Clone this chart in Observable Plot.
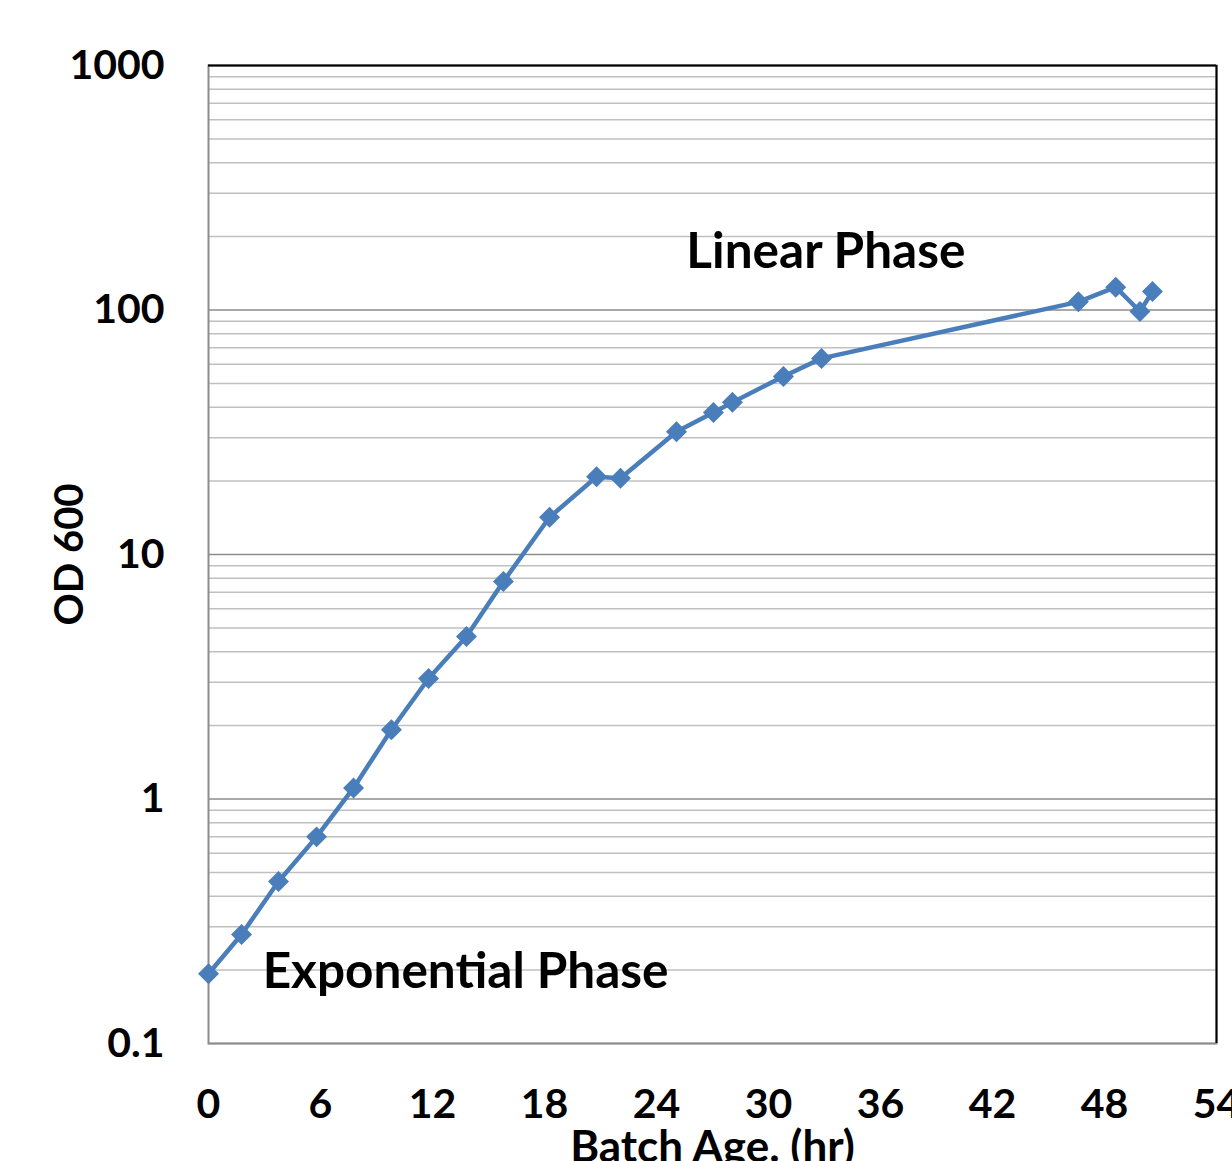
<!DOCTYPE html>
<html><head><meta charset="utf-8">
<script src="https://cdn.jsdelivr.net/npm/d3@7"></script>
<script src="https://cdn.jsdelivr.net/npm/@observablehq/plot@0.6"></script>
<style>
html,body{margin:0;padding:0;background:#fff;}
#chart{width:1232px;height:1161px;overflow:hidden;}
</style></head>
<body><div id="chart"></div>
<script>
const hours = [0, 1.77, 3.75, 5.79, 7.77, 9.8, 11.79, 13.82, 15.8, 18.27, 20.79, 22.07, 25.07, 27.05, 28.07, 30.8, 32.84, 46.6, 48.6, 49.9, 50.57];
const od600 = [0.193, 0.279, 0.46, 0.70, 1.11, 1.92, 3.11, 4.62, 7.76, 14.2, 20.8, 20.5, 31.8, 38.1, 41.9, 53.5, 63.4, 108, 124, 98.6, 119];
const xTicks = [0, 6, 12, 18, 24, 30, 36, 42, 48, 54];
const yTicks = [0.1, 1, 10, 100, 1000];
const yTickLabels = ["0.1", "1", "10", "100", "1000"];
const annotations = [
  {label: "Linear Phase", hour: 25.6, od: 172},
  {label: "Exponential Phase", hour: 2.9, od: 0.196}
];
const xLabel = "Batch Age. (hr)";
const yLabel = "OD 600";

const data = hours.map((h, i) => ({h, v: od600[i]}));
const minorTicks = [];
for (let d = 0; d < yTicks.length - 1; d++) for (let k = 2; k <= 9; k++) minorTicks.push(+(yTicks[d] * k).toPrecision(6));

const FONT = "Lato, 'Open Sans', sans-serif";
const blue = "#4a7ebb";

const chart = Plot.plot({
  width: 1232, height: 1161,
  marginLeft: 208, marginRight: 16, marginTop: 65, marginBottom: 118,
  style: {fontFamily: FONT, fontWeight: "bold", background: "#fff"},
  x: {domain: [0, 54], ticks: xTicks, label: null, axis: null},
  y: {type: "log", domain: [0.1, 1000], axis: null},
  marks: [
    Plot.ruleY(minorTicks, {stroke: "#c0c0c0", strokeWidth: 1.5}),
    Plot.ruleY(yTicks, {stroke: "#8c8c8c", strokeWidth: 1.5}),
    Plot.frame({stroke: "#8c8c8c", strokeWidth: 2}),
    Plot.ruleY([1000], {stroke: "#000", strokeWidth: 2}),
    Plot.ruleX([54], {stroke: "#000", strokeWidth: 2}),
    Plot.axisX({ticks: xTicks, tickSize: 0, tickPadding: 45, fontSize: 41, fontWeight: "bold", fill: "#000", label: null}),
    Plot.axisY({ticks: yTicks, tickFormat: (d) => yTickLabels[yTicks.indexOf(d)], tickSize: 0, tickPadding: 44, fontSize: 41, fontWeight: "bold", fill: "#000", label: null}),
    Plot.line(data, {x: "h", y: "v", stroke: blue, strokeWidth: 4.5}),
    Plot.dot(data, {x: "h", y: "v", symbol: "diamond2", r: 8.5, fill: blue, stroke: blue}),
    Plot.text(annotations, {x: "hour", y: "od", text: "label", textAnchor: "start", fontSize: 49.5, fontWeight: "bold", fill: "#000"}),
    Plot.text([xLabel], {frameAnchor: "bottom", dy: 118, fontSize: 44, fontWeight: "bold", fill: "#000", lineAnchor: "bottom"}),
    Plot.text([yLabel], {frameAnchor: "left", dx: -138, rotate: -90, textAnchor: "middle", fontSize: 40, fontWeight: "bold", fill: "#000"})
  ]
});
document.getElementById("chart").appendChild(chart);
</script>
</body></html>
